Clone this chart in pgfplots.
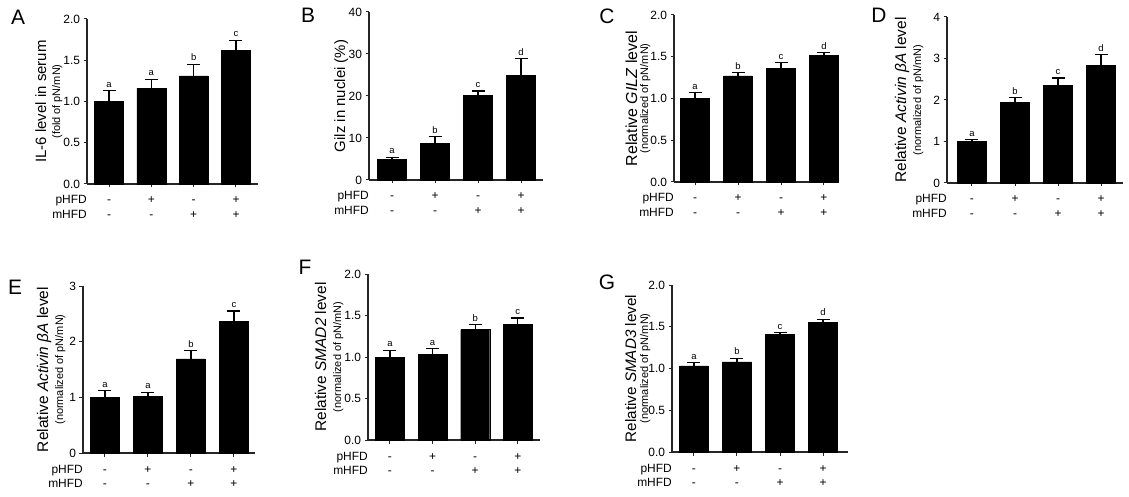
\documentclass[border=0pt]{standalone}
\usepackage{fontspec}
\setmainfont{Liberation Sans}
\usepackage{pgfplots}
\pgfplotsset{compat=1.18}

\pgfplotsset{
 panel/.style={
  scale only axis,
  axis x line*=bottom, axis y line*=left,
  ymin=0,
  xtick={1,2,3,4}, xticklabels={},
  tick align=outside,
  major tick length=3.5bp,
  tick style={line width=1bp, black!85},
  axis line style={line width=1.1bp, black!85},
  tick label style={font=\fontsize{12}{14}\selectfont},
  /pgf/number format/assume math mode=true,
  clip=false,
 },
 dec/.style={yticklabel style={/pgf/number format/.cd, fixed, fixed zerofill, precision=1}},
 bars/.style={ybar, fill=black, draw=black, bar width=29bp,
   error bars/.cd, y dir=plus, y explicit,
   error bar style={line width=1.3bp, black},
   error mark=-,
   error mark options={rotate=90, line width=1.3bp, mark size=6.5bp, black}},
 lets/.style={draw=none, mark=none, nodes near coords, point meta=explicit symbolic,
   nodes near coords style={font=\fontsize{9.5}{10}\selectfont, anchor=base, yshift=3.5bp, inner sep=0pt, black}},
}
\tikzset{
 sg/.style={anchor=base, font=\fontsize{12}{12}\selectfont, inner sep=0pt},
 nm/.style={anchor=base east, font=\fontsize{12}{12}\selectfont, inner sep=0pt},
 pl/.style={font=\fontsize{21}{21}\selectfont, inner sep=0pt},
}

\newcommand{\rows}{%
\node[sg] at ([yshift=-20bp]axis cs:1,0) {-};
\node[sg] at ([yshift=-20bp]axis cs:2,0) {+};
\node[sg] at ([yshift=-20bp]axis cs:3,0) {-};
\node[sg] at ([yshift=-20bp]axis cs:4,0) {+};
\node[sg] at ([yshift=-34.5bp]axis cs:1,0) {-};
\node[sg] at ([yshift=-34.5bp]axis cs:2,0) {-};
\node[sg] at ([yshift=-34.5bp]axis cs:3,0) {+};
\node[sg] at ([yshift=-34.5bp]axis cs:4,0) {+};
\node[nm] at ([yshift=-20bp]rel axis cs:0,0) {pHFD};
\node[nm] at ([yshift=-34.5bp]rel axis cs:0,0) {mHFD};
}
% #1 main shift, #2 main size, #3 main text, #4 sub shift, #5 sub text
\newcommand{\ylab}[5]{%
\node[rotate=90, anchor=base, inner sep=0pt, font=\fontsize{#2}{#2}\selectfont] at ([xshift=#1]rel axis cs:0,0.5) {#3};
\node[rotate=90, anchor=base, inner sep=0pt, font=\fontsize{11}{11}\selectfont] at ([xshift=#4]rel axis cs:0,0.5) {#5};
}

\begin{document}
\begin{tikzpicture}
\useasboundingbox (0bp,0bp) rectangle (1129bp,497bp);

% Panel letters
\node[pl] at (18bp,480bp) {A};
\node[pl] at (308bp,482bp) {B};
\node[pl] at (607bp,481bp) {C};
\node[pl] at (879bp,482bp) {D};
\node[pl] at (15bp,210bp) {E};
\node[pl] at (305bp,230bp) {F};
\node[pl] at (607bp,215bp) {G};

% A
\begin{axis}[panel, dec, at={(87bp,313bp)}, anchor=south west, width=171bp, height=165bp,
  xmin=0.48, xmax=4.52, ymax=2, ytick={0,0.5,1,1.5,2}]
\addplot[bars] coordinates {(1,1.00) +- (0,0.13) (2,1.16) +- (0,0.11) (3,1.31) +- (0,0.14) (4,1.62) +- (0,0.12)};
\addplot[lets] coordinates {(1,1.13)[a] (2,1.27)[a] (3,1.45)[b] (4,1.74)[c]};
\rows
\ylab{-41bp}{15}{IL-6 level in serum}{-27bp}{(fold of pN/mN)}
\end{axis}

% B
\begin{axis}[panel, at={(369bp,317bp)}, anchor=south west, width=174bp, height=168bp,
  xmin=0.465, xmax=4.51, ymax=40, ytick={0,10,20,30,40}]
\addplot[bars] coordinates {(1,4.9) +- (0,0.5) (2,8.8) +- (0,1.5) (3,20.2) +- (0,1.0) (4,24.9) +- (0,4.0)};
\addplot[lets] coordinates {(1,5.4)[a] (2,10.3)[b] (3,21.2)[c] (4,28.9)[d]};
\rows
\node[rotate=90, anchor=base, inner sep=0pt, font=\fontsize{15}{15}\selectfont] at ([xshift=-24bp]rel axis cs:0,0.5) {Gilz in nuclei (\%)};
\end{axis}

% C
\begin{axis}[panel, dec, at={(674bp,315bp)}, anchor=south west, width=165bp, height=167bp,
  xmin=0.51, xmax=4.35, ymax=2, ytick={0,0.5,1,1.5,2}]
\addplot[bars] coordinates {(1,1.00) +- (0,0.07) (2,1.27) +- (0,0.04) (3,1.36) +- (0,0.07) (4,1.52) +- (0,0.03)};
\addplot[lets] coordinates {(1,1.07)[a] (2,1.31)[b] (3,1.43)[c] (4,1.55)[d]};
\rows
\ylab{-37bp}{16}{Relative \textit{GILZ} level}{-26bp}{(normalized of pN/mN)}
\end{axis}

% D
\begin{axis}[panel, at={(947bp,314bp)}, anchor=south west, width=176bp, height=166bp,
  xmin=0.42, xmax=4.51, ymax=4, ytick={0,1,2,3,4}]
\addplot[bars] coordinates {(1,1.00) +- (0,0.04) (2,1.95) +- (0,0.11) (3,2.35) +- (0,0.18) (4,2.84) +- (0,0.25)};
\addplot[lets] coordinates {(1,1.04)[a] (2,2.06)[b] (3,2.53)[c] (4,3.09)[d]};
\rows
\ylab{-41bp}{15.5}{Relative \textit{Activin βA} level}{-26bp}{(normalized of pN/mN)}
\end{axis}

% E
\begin{axis}[panel, at={(83bp,44bp)}, anchor=south west, width=172bp, height=167bp,
  xmin=0.49, xmax=4.49, ymax=3, ytick={0,1,2,3}]
\addplot[bars] coordinates {(1,1.00) +- (0,0.12) (2,1.02) +- (0,0.07) (3,1.69) +- (0,0.15) (4,2.37) +- (0,0.18)};
\addplot[lets] coordinates {(1,1.12)[a] (2,1.09)[a] (3,1.84)[b] (4,2.55)[c]};
\rows
\ylab{-35bp}{15.5}{Relative \textit{Activin βA} level}{-20bp}{(normalized of pN/mN)}
\end{axis}

% F
\begin{axis}[panel, dec, at={(368bp,57bp)}, anchor=south west, width=172bp, height=166bp,
  xmin=0.485, xmax=4.52, ymax=2, ytick={0,0.5,1,1.5,2}]
\addplot[bars] coordinates {(1,1.00) +- (0,0.08) (2,1.03) +- (0,0.07) (3,1.33) +- (0,0.06) (4,1.39) +- (0,0.08)};
\addplot[lets] coordinates {(1,1.08)[a] (2,1.10)[a] (3,1.39)[b] (4,1.47)[c]};
\rows
\ylab{-42bp}{15.5}{Relative \textit{SMAD2} level}{-27bp}{(normalized of pN/mN)}
\end{axis}

% G
\begin{axis}[panel, dec, at={(672bp,45bp)}, anchor=south west, width=176bp, height=167bp,
  xmin=0.49, xmax=4.58, ymax=2, ytick={0,0.5,1,1.5,2}]
\addplot[bars] coordinates {(1,1.03) +- (0,0.04) (2,1.08) +- (0,0.04) (3,1.41) +- (0,0.02) (4,1.55) +- (0,0.04)};
\addplot[lets] coordinates {(1,1.07)[a] (2,1.12)[b] (3,1.43)[c] (4,1.59)[d]};
\rows
\ylab{-36bp}{15.3}{Relative \textit{SMAD3} level}{-24bp}{(normalized of pN/mN)}
\end{axis}
\end{tikzpicture}
\end{document}
